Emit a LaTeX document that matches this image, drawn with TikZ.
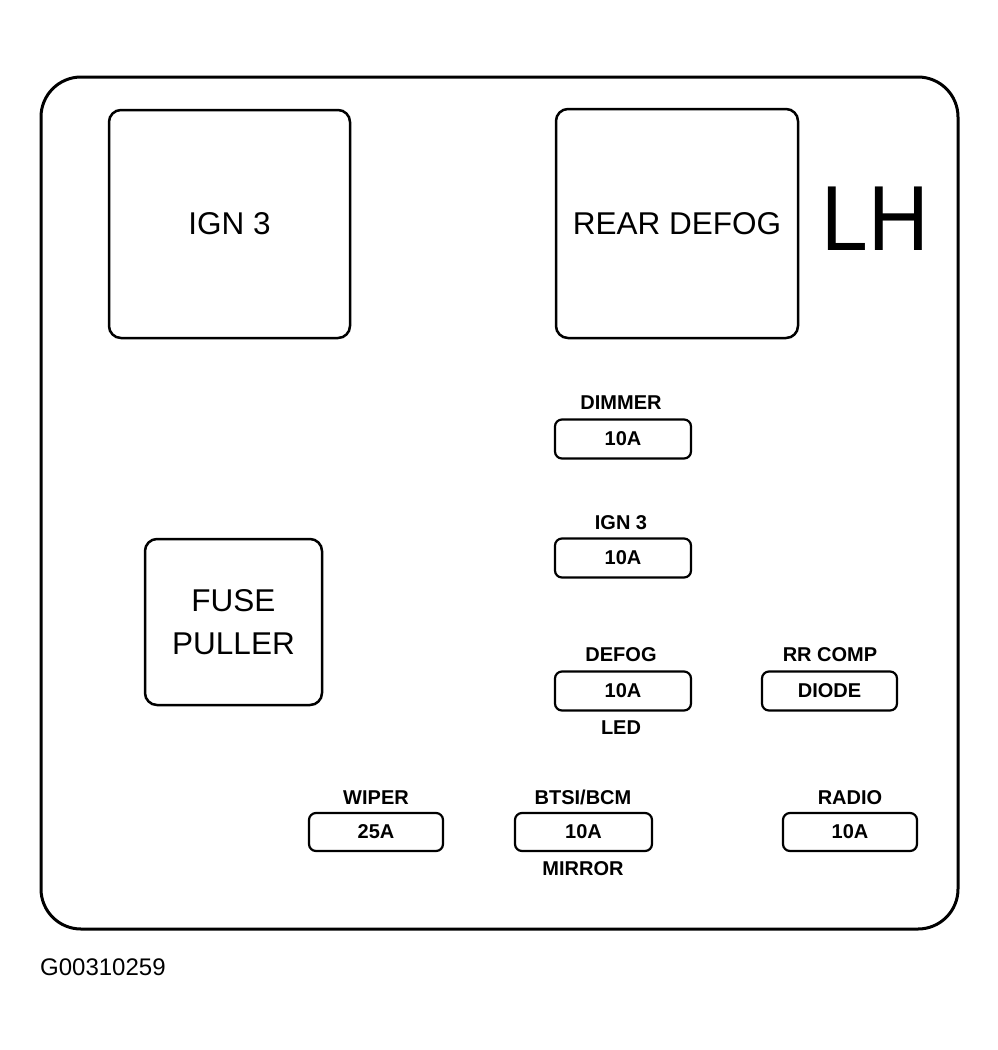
\documentclass[tikz,border=0pt]{standalone}
\usepackage{fontspec}
\setmainfont{Liberation Sans}
\begin{document}
\begin{tikzpicture}[x=1pt,y=-1pt,
  relay/.style={draw, line width=2.5pt, rounded corners=12pt, inner sep=0pt, align=center,
    font=\fontsize{31.5}{43}\selectfont},
  fuse/.style={draw, line width=2.2pt, rounded corners=7pt, minimum width=136pt,
    minimum height=39pt, inner sep=0pt, font=\bfseries\fontsize{20}{22}\selectfont},
  lbl/.style={inner sep=0pt, anchor=base, font=\bfseries\fontsize{20}{22}\selectfont}]
\useasboundingbox (0,0) rectangle (998,1050);
\draw[line width=3pt, rounded corners=40pt] (41,77) rectangle (958,929);
% relays
\node[relay, minimum width=241pt, minimum height=228pt] (ign3r) at (229.5,224) {IGN 3};
\node[relay, minimum width=242pt, minimum height=229pt] (rdef) at (677,223.5) {REAR DEFOG};
\node[inner sep=0pt, anchor=base, font=\fontsize{84}{90}\selectfont] (lh) at (875,250) {\scalebox{1}[1.1]{LH}};
\node[relay, minimum width=177pt, minimum height=166pt] (puller) at (233.5,622) {FUSE\\PULLER};
% fuses
\node[fuse] (dimmer) at (623,439) {10A};
\node[lbl] (dimmerl) at (621,409) {DIMMER};
\node[fuse] (ign3f) at (623,558) {10A};
\node[lbl] (ign3l) at (621,529) {IGN 3};
\node[fuse] (defog) at (623,691) {10A};
\node[lbl] (defogl) at (621,661) {DEFOG};
\node[lbl] (led) at (621,734) {LED};
\node[fuse, minimum width=135pt] (rrcomp) at (829.5,691) {DIODE};
\node[lbl] (rrcompl) at (830,661) {RR COMP};
\node[fuse, minimum width=134pt, minimum height=38pt] (wiper) at (376,832) {25A};
\node[lbl] (wiperl) at (376,804) {WIPER};
\node[fuse, minimum width=137pt, minimum height=38pt] (btsi) at (583.5,832) {10A};
\node[lbl] (btsil) at (583,804) {BTSI/BCM};
\node[lbl] (mirror) at (583,875) {MIRROR};
\node[fuse, minimum width=134pt, minimum height=38pt] (radio) at (850,832) {10A};
\node[lbl] (radiol) at (850,804) {RADIO};
% figure id
\node[inner sep=0pt, anchor=base west, font=\fontsize{24}{28}\selectfont] (gid) at (40,975) {G00310259};
\end{tikzpicture}
\end{document}
